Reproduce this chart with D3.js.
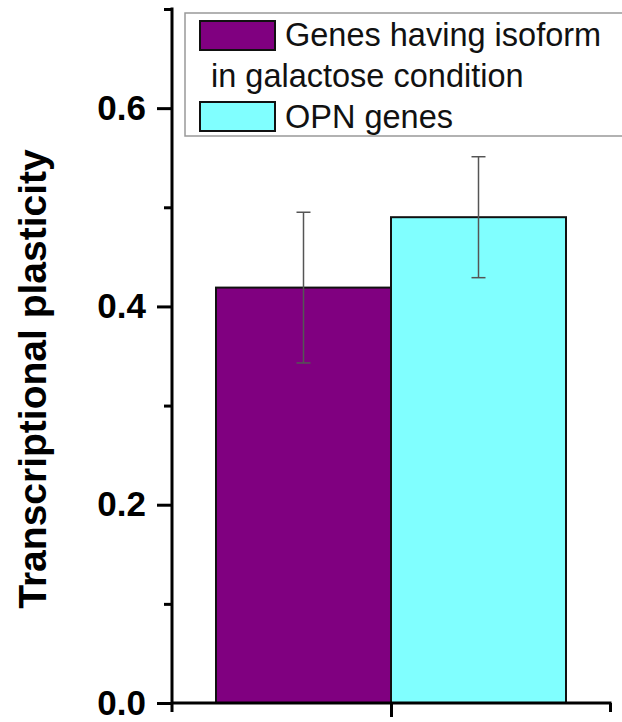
<!DOCTYPE html>
<html>
<head>
<meta charset="utf-8">
<script src="https://cdn.jsdelivr.net/npm/d3@7"></script>
<style>
  html, body { margin: 0; padding: 0; background: #fff; }
  svg { display: block; }
  text { font-family: "Liberation Sans", Arial, Helvetica, sans-serif; }
</style>
</head>
<body>
<svg id="chart" width="622" height="722"></svg>
<script>
// Mean transcriptional plasticity per gene set, with error half-widths
const seriesNames = ["Genes having isoform in galactose condition", "OPN genes"];
const legendLines = [["Genes having isoform", "in galactose condition"], ["OPN genes"]];
const meanValues = [0.419, 0.490];
const errorValues = [0.076, 0.061];
const barColors = ["#800080", "#80ffff"];
const yMajorTicks = [0.0, 0.2, 0.4, 0.6];
const yMinorTicks = [0.1, 0.3, 0.5, 0.7];
const yTickLabels = ["0.0", "0.2", "0.4", "0.6"];
const yTitle = "Transcriptional plasticity";

const svg = d3.select("#chart");
const plot = { left: 172, right: 610, top: 9, bottom: 703 };

const y = d3.scaleLinear().domain([0, 0.7]).range([plot.bottom, plot.top]);
// x axis: one category centred between the axis ends
const x = d3.scaleLinear().domain([0, 2]).range([plot.left, plot.right]);
const groupCenter = x(1);
const groupHalf = 175;
const xb = d3.scaleBand().domain(seriesNames)
  .range([groupCenter - groupHalf, groupCenter + groupHalf]).paddingInner(0);

const data = seriesNames.map((name, i) => ({
  name, mean: meanValues[i], err: errorValues[i], color: barColors[i]
}));

// Bars
svg.append("g").selectAll("rect").data(data).join("rect")
  .attr("x", d => xb(d.name))
  .attr("y", d => y(d.mean))
  .attr("width", xb.bandwidth())
  .attr("height", d => y(0) - y(d.mean))
  .attr("fill", d => d.color)
  .attr("stroke", "#111")
  .attr("stroke-width", 2);

// Error bars
const eb = svg.append("g").attr("stroke", "#555").attr("stroke-width", 1.5).attr("fill", "none");
data.forEach(d => {
  const cx = xb(d.name) + xb.bandwidth() / 2;
  eb.append("line").attr("x1", cx).attr("x2", cx)
    .attr("y1", y(d.mean + d.err)).attr("y2", y(d.mean - d.err));
  [d.mean + d.err, d.mean - d.err].forEach(v => {
    eb.append("line").attr("x1", cx - 7).attr("x2", cx + 7)
      .attr("y1", y(v)).attr("y2", y(v));
  });
});

// Y axis: major ticks with labels, minor ticks without
const yAxisMajor = d3.axisLeft(y).tickValues(yMajorTicks)
  .tickSize(15).tickPadding(11)
  .tickFormat((d, i) => yTickLabels[i]);
const gy = svg.append("g").attr("transform", `translate(${plot.left},0)`).call(yAxisMajor);
gy.select(".domain").remove();
gy.selectAll(".tick line").attr("stroke", "#000").attr("stroke-width", 3);
gy.selectAll(".tick text")
  .attr("font-size", 35).attr("font-weight", "bold").attr("fill", "#000")
  .attr("font-family", "Liberation Sans, Arial, sans-serif");

const gyMinor = svg.append("g").attr("transform", `translate(${plot.left},0)`)
  .call(d3.axisLeft(y).tickValues(yMinorTicks).tickSize(8).tickFormat(""));
gyMinor.select(".domain").remove();
gyMinor.selectAll(".tick line").attr("stroke", "#000").attr("stroke-width", 3);

// Y axis line, extending slightly below the baseline
svg.append("line")
  .attr("x1", plot.left).attr("x2", plot.left)
  .attr("y1", y(0.7) - 1.5).attr("y2", y(0) + 9)
  .attr("stroke", "#000").attr("stroke-width", 3);

// X axis line with ticks pointing down
svg.append("line")
  .attr("x1", plot.left).attr("x2", x(2) + 1.5)
  .attr("y1", y(0)).attr("y2", y(0))
  .attr("stroke", "#000").attr("stroke-width", 3);
const gx = svg.append("g").attr("transform", `translate(0,${y(0)})`)
  .call(d3.axisBottom(x).tickValues([1]).tickSize(14).tickFormat(""));
gx.select(".domain").remove();
gx.selectAll(".tick line").attr("stroke", "#000").attr("stroke-width", 3);
const gxEnd = svg.append("g").attr("transform", `translate(0,${y(0)})`)
  .call(d3.axisBottom(x).tickValues([2]).tickSize(9).tickFormat(""));
gxEnd.select(".domain").remove();
gxEnd.selectAll(".tick line").attr("stroke", "#000").attr("stroke-width", 3);

// Y axis title
svg.append("text")
  .attr("transform", "translate(46,379) rotate(-90)")
  .attr("text-anchor", "middle")
  .attr("font-size", 39).attr("font-weight", "bold").attr("fill", "#000")
  .text(yTitle);

// Legend
const lg = svg.append("g");
lg.append("rect")
  .attr("x", 185).attr("y", 13).attr("width", 460).attr("height", 123)
  .attr("fill", "#fff").attr("stroke", "#999").attr("stroke-width", 1.5);
const swatchY = [21, 102];
data.forEach((d, i) => {
  lg.append("rect")
    .attr("x", 200).attr("y", swatchY[i]).attr("width", 75).attr("height", 29)
    .attr("fill", d.color).attr("stroke", "#111").attr("stroke-width", 2);
});
const legendText = [
  { t: legendLines[0][0], x: 285, y: 46 },
  { t: legendLines[0][1], x: 211, y: 87 },
  { t: legendLines[1][0], x: 285, y: 128 }
];
lg.selectAll("text.lt").data(legendText).join("text")
  .attr("class", "lt")
  .attr("x", d => d.x).attr("y", d => d.y)
  .attr("font-size", 32.5).attr("fill", "#111")
  .text(d => d.t);
</script>
</body>
</html>
